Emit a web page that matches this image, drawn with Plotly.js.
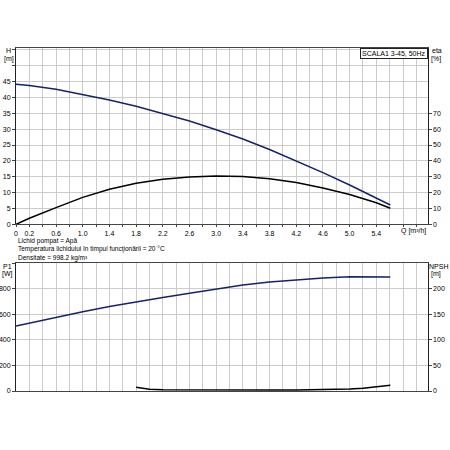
<!DOCTYPE html>
<html>
<head>
<meta charset="utf-8">
<script src="https://cdn.plot.ly/plotly-3.0.1.min.js"></script>
<style>
  html, body { margin: 0; padding: 0; background: #fff; }
  #chart { width: 450px; height: 450px; }
</style>
</head>
<body>
<div id="chart"></div>
<script>
// flow values, m3/h
var qPump = [0, 0.2, 0.6, 1.0, 1.4, 1.8, 2.2, 2.6, 3.0, 3.4, 3.8, 4.2, 4.6, 5.0, 5.4, 5.61];
var head = [44.2, 43.8, 42.6, 40.9, 39.2, 37.2, 35.0, 32.6, 29.8, 26.9, 23.6, 20.0, 16.3, 12.4, 8.3, 6.1];
var eta = [0, 3.8, 10.5, 17.0, 22.1, 25.9, 28.4, 29.9, 30.5, 30.2, 28.8, 26.3, 22.9, 18.8, 13.6, 10.1];

var qPower = [0, 0.6, 1.0, 1.4, 1.8, 2.2, 2.6, 3.0, 3.4, 3.8, 4.2, 4.6, 5.0, 5.4, 5.61];
var power = [510, 578, 622, 662, 700, 733, 767, 800, 830, 855, 873, 886, 895, 897, 894];

var qNpsh = [1.8, 1.9, 2.0, 2.2, 2.6, 3.0, 3.4, 3.8, 4.2, 4.6, 5.0, 5.2, 5.4, 5.61];
var npsh = [7.2, 4.8, 3.3, 2.3, 1.8, 1.7, 1.7, 1.8, 2.0, 2.5, 4.0, 5.5, 8.0, 11.5];

var qLabels = ["0", "0.2", "0.6", "1.0", "1.4", "1.8", "2.2", "2.6", "3.0", "3.4", "3.8", "4.2", "4.6", "5.0", "5.4"];
var infoLines = [
    "Lichid pompat = Apă",
    "Temperatura lichidului în timpul funcţionării = 20 °C",
    "Densitate = 998.2 kg/m³"
];

var W = 450, H = 450;
function px(x) { return x / W; }
function py(y) { return 1 - y / H; }

// x grid every 0.2, labels only at some of them
var qTicks = [], qText = [];
for (var i = 0; i <= 30; i++) {
    var v = Math.round(i * 2) / 10;
    qTicks.push(v);
    var s = v.toFixed(1);
    if (v === 0) s = "0";
    qText.push(qLabels.indexOf(s) >= 0 ? s : "");
}

function ticksWithBlank(step, maxLabel, maxGrid) {
    var vals = [], txt = [];
    for (var v = 0; v <= maxGrid + 1e-9; v += step) {
        vals.push(v);
        txt.push(v <= maxLabel ? String(v) : "");
    }
    return { vals: vals, txt: txt };
}

var navy = "#14246b";
var tickFont = { family: "Liberation Sans, Arial, sans-serif", size: 7, color: "#000" };
var smallFont = { family: "Liberation Sans, Arial, sans-serif", size: 6.5, color: "#000" };
var gridColor = "#cccccc";

var hTicks = ticksWithBlank(5, 45, 55);
var etaTicks = ticksWithBlank(10, 70, 70);
var pTicks = ticksWithBlank(200, 800, 1000);
var nTicks = ticksWithBlank(50, 200, 200);

var traces = [
    { x: qPump, y: head, xaxis: "x", yaxis: "y", mode: "lines", line: { color: navy, width: 1.5 }, hoverinfo: "skip" },
    { x: qPump, y: eta, xaxis: "x", yaxis: "y2", mode: "lines", line: { color: "#000", width: 1.5 }, hoverinfo: "skip" },
    { x: qPower, y: power, xaxis: "x2", yaxis: "y3", mode: "lines", line: { color: navy, width: 1.5 }, hoverinfo: "skip" },
    { x: qNpsh, y: npsh, xaxis: "x2", yaxis: "y4", mode: "lines", line: { color: "#000", width: 1.5 }, hoverinfo: "skip" }
];

var xDomain = [px(16), px(427.7)];
var topDomain = [py(224.3), py(48)];
var botDomain = [py(391), py(263.3)];

var xBase = {
    domain: xDomain, range: [0, 6.17],
    tickmode: "array", tickvals: qTicks,
    showgrid: true, gridcolor: gridColor, gridwidth: 1,
    zeroline: false, showline: true, linecolor: "#444", linewidth: 1, mirror: true,
    tickfont: tickFont, fixedrange: true
};

var layout = {
    width: W, height: H,
    margin: { l: 0, r: 0, t: 0, b: 0 },
    paper_bgcolor: "#fff", plot_bgcolor: "#fff",
    showlegend: false,
    font: tickFont,
    xaxis: Object.assign({}, xBase, { anchor: "y", ticktext: qText, ticks: "outside", ticklen: 2, tickcolor: "#444" }),
    xaxis2: Object.assign({}, xBase, { anchor: "y3", ticktext: qText, showticklabels: false, ticks: "" }),
    yaxis: {
        domain: topDomain, range: [0, 55.6], anchor: "x",
        tickmode: "array", tickvals: hTicks.vals, ticktext: hTicks.txt,
        showgrid: true, gridcolor: gridColor, zeroline: false,
        showline: true, linecolor: "#222", ticks: "outside", ticklen: 3, tickcolor: "#444",
        tickfont: tickFont, fixedrange: true
    },
    yaxis2: {
        range: [0, 111.2], overlaying: "y", side: "right", anchor: "x",
        tickmode: "array", tickvals: etaTicks.vals, ticktext: etaTicks.txt,
        showgrid: false, zeroline: false, showline: true, linecolor: "#222",
        ticks: "outside", ticklen: 3, tickcolor: "#444",
        tickfont: tickFont, fixedrange: true
    },
    yaxis3: {
        domain: botDomain, range: [0, 1001], anchor: "x2",
        tickmode: "array", tickvals: pTicks.vals, ticktext: pTicks.txt,
        showgrid: true, gridcolor: gridColor, zeroline: false,
        showline: true, linecolor: "#222", ticks: "outside", ticklen: 3, tickcolor: "#444",
        tickfont: tickFont, fixedrange: true
    },
    yaxis4: {
        range: [0, 250.25], overlaying: "y3", side: "right", anchor: "x2",
        tickmode: "array", tickvals: nTicks.vals, ticktext: nTicks.txt,
        showgrid: false, zeroline: false, showline: true, linecolor: "#222",
        ticks: "outside", ticklen: 3, tickcolor: "#444",
        tickfont: tickFont, fixedrange: true
    },
    annotations: []
};

function label(text, x, y, xanchor, font) {
    layout.annotations.push({
        text: text, xref: "paper", yref: "paper",
        x: px(x), y: py(y), xanchor: xanchor || "left", yanchor: "middle",
        showarrow: false, font: font || tickFont, borderpad: 0
    });
}

// axis captions
label("H", 8, 50, "center");
label("[m]", 9, 59, "center");
label("eta", 437, 51, "center");
label("[%]", 436, 59, "center");
label("P1", 7, 266, "center");
label("[W]", 7, 274, "center");
label("NPSH", 438, 266, "center");
label("[m]", 436, 274, "center");
label("Q [m³/h]", 413, 231, "center");

// pump name box
layout.annotations.push({
    text: "SCALA1 3-45, 50Hz", xref: "paper", yref: "paper",
    x: px(427.7), y: py(48), xanchor: "right", yanchor: "top",
    showarrow: false, font: tickFont,
    bgcolor: "#fff", bordercolor: "#222", borderwidth: 1, borderpad: 1
});

// liquid info text
infoLines.forEach(function (t, k) {
    label(t, 17, 241.5 + k * 8, "left", smallFont);
});

Plotly.newPlot("chart", traces, layout, { displayModeBar: false, staticPlot: true });
</script>
</body>
</html>
